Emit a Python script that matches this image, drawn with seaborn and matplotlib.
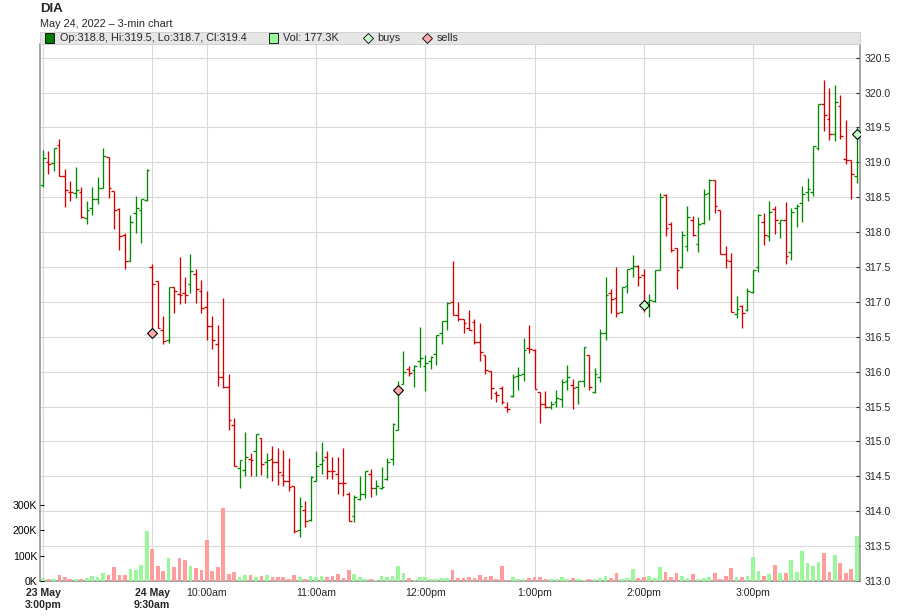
"""DIA 3-min OHLC chart with volume (23-24 May 2022)."""

import matplotlib
matplotlib.use("Agg")
import matplotlib.pyplot as plt
import matplotlib.patches as mpatches
from matplotlib.lines import Line2D
import numpy as np
import pandas as pd
import seaborn as sns

# ---- data ----
opens = [
    318.68, 319.01, 318.99, 319.25, 318.80, 318.58, 318.56, 318.58, 318.20, 318.34,
    318.48, 318.63, 319.07, 318.59, 318.33, 317.96, 317.58, 318.27, 318.32, 318.46,
    317.50, 317.30, 316.60, 316.45, 317.21, 317.11, 317.13, 317.25, 317.40, 317.16,
    316.93, 316.65, 316.39, 315.92, 315.78, 315.24, 314.62, 314.59, 314.75, 314.86,
    315.05, 314.71, 314.75, 314.71, 314.52, 314.44, 314.36, 313.73, 314.02, 313.87,
    314.43, 314.68, 314.78, 314.58, 314.54, 314.41, 314.25, 313.93, 314.17, 314.25,
    314.54, 314.33, 314.33, 314.46, 314.75, 315.17, 315.82, 316.04, 316.02, 316.15,
    316.08, 316.15, 316.25, 316.56, 316.73, 317.00, 316.81, 316.76, 316.63, 316.71,
    316.43, 316.24, 316.01, 315.70, 315.76, 315.50, 315.65, 315.94, 315.96, 316.34,
    316.31, 315.71, 315.54, 315.49, 315.56, 315.61, 315.87, 315.81, 315.78, 315.87,
    316.24, 315.71, 315.92, 316.56, 317.13, 317.06, 316.86, 317.23, 317.49, 317.51,
    317.39, 317.00, 317.01, 317.46, 318.53, 318.12, 317.77, 317.50, 317.80, 318.18,
    317.83, 318.13, 318.56, 318.75, 318.32, 317.68, 317.58, 316.82, 316.94, 316.88,
    317.14, 317.50, 318.14, 317.95, 318.33, 318.13, 318.18, 317.71, 318.34, 318.41,
    318.58, 318.58, 319.20, 319.84, 319.62, 319.41, 319.81, 319.04, 319.03, 318.80,
]
highs = [
    319.18, 319.16, 319.21, 319.33, 318.90, 318.73, 318.93, 318.64, 318.44, 318.64,
    318.79, 319.20, 319.08, 318.59, 318.35, 317.98, 318.25, 318.52, 318.47, 318.90,
    317.54, 317.30, 316.80, 317.21, 317.21, 317.64, 317.36, 317.68, 317.47, 317.32,
    317.16, 316.80, 316.67, 317.05, 315.96, 315.33, 314.74, 315.14, 314.84, 315.11,
    315.05, 314.84, 314.94, 314.90, 314.88, 314.76, 314.36, 314.20, 314.14, 314.50,
    314.87, 314.99, 314.87, 314.78, 314.78, 314.91, 314.28, 314.23, 314.50, 314.57,
    314.61, 314.45, 314.63, 314.76, 315.26, 315.86, 316.30, 316.08, 316.09, 316.64,
    316.24, 316.22, 316.53, 316.73, 317.00, 317.59, 317.00, 316.76, 316.88, 316.76,
    316.70, 316.24, 316.01, 315.72, 315.79, 315.56, 315.96, 316.07, 316.48, 316.67,
    316.32, 315.71, 315.72, 315.58, 315.73, 315.90, 316.10, 315.89, 315.87, 316.35,
    316.24, 316.05, 316.61, 317.35, 317.18, 317.50, 317.21, 317.47, 317.67, 317.53,
    317.47, 317.11, 317.46, 318.56, 318.54, 318.14, 317.77, 318.02, 318.38, 318.23,
    318.21, 318.62, 318.76, 318.75, 318.32, 317.80, 317.70, 317.09, 316.95, 317.20,
    317.45, 318.26, 318.27, 318.45, 318.38, 318.18, 318.43, 318.35, 318.40, 318.66,
    318.77, 319.23, 319.84, 320.18, 320.06, 320.11, 319.96, 319.60, 319.03, 319.50,
]
lows = [
    318.64, 318.83, 318.87, 318.80, 318.36, 318.45, 318.49, 318.20, 318.12, 318.25,
    318.40, 318.63, 318.49, 318.04, 317.75, 317.47, 317.58, 317.98, 317.85, 318.44,
    316.55, 316.63, 316.39, 316.41, 316.84, 316.97, 316.99, 317.13, 316.99, 316.84,
    316.46, 316.33, 315.80, 315.76, 315.16, 314.65, 314.33, 314.51, 314.50, 314.51,
    314.52, 314.48, 314.44, 314.38, 314.36, 314.29, 313.69, 313.63, 313.78, 313.86,
    314.43, 314.54, 314.46, 314.46, 314.24, 314.22, 313.86, 313.84, 314.16, 314.19,
    314.20, 314.23, 314.32, 314.45, 314.66, 315.17, 315.82, 315.94, 315.78, 316.07,
    315.72, 316.04, 316.09, 316.40, 316.59, 316.81, 316.72, 316.55, 316.59, 316.40,
    316.15, 315.97, 315.61, 315.56, 315.54, 315.42, 315.63, 315.74, 315.87, 316.26,
    315.75, 315.27, 315.48, 315.46, 315.50, 315.49, 315.74, 315.47, 315.54, 315.78,
    315.74, 315.69, 315.85, 316.46, 316.84, 316.79, 316.84, 317.12, 317.35, 317.23,
    316.86, 316.79, 317.00, 317.46, 317.94, 317.71, 317.19, 317.48, 317.73, 317.95,
    317.72, 318.11, 318.17, 318.28, 317.68, 317.49, 316.86, 316.77, 316.63, 316.87,
    317.12, 317.43, 317.82, 317.87, 317.97, 317.91, 317.54, 317.60, 318.07, 318.14,
    318.44, 318.51, 319.18, 319.45, 319.32, 319.31, 319.33, 318.98, 318.47, 318.70,
]
closes = [
    319.06, 318.98, 319.21, 318.80, 318.60, 318.57, 318.60, 318.21, 318.32, 318.47,
    318.63, 319.09, 318.63, 318.32, 317.94, 317.58, 318.15, 318.34, 318.47, 318.89,
    317.26, 316.63, 316.44, 317.21, 317.16, 317.10, 317.10, 317.44, 317.18, 316.91,
    316.65, 316.45, 315.92, 315.78, 315.30, 314.65, 314.74, 314.78, 314.73, 315.10,
    314.68, 314.74, 314.71, 314.56, 314.44, 314.35, 313.71, 314.08, 313.86, 314.49,
    314.65, 314.74, 314.58, 314.57, 314.41, 314.40, 313.86, 314.21, 314.25, 314.57,
    314.33, 314.36, 314.35, 314.71, 315.25, 315.74, 316.00, 315.98, 316.08, 316.20,
    316.12, 316.21, 316.53, 316.73, 316.98, 316.81, 316.76, 316.70, 316.60, 316.43,
    316.28, 316.03, 315.77, 315.67, 315.56, 315.47, 315.93, 315.95, 316.31, 316.33,
    315.75, 315.53, 315.50, 315.54, 315.62, 315.85, 315.92, 315.76, 315.87, 316.35,
    315.78, 315.96, 316.56, 317.10, 317.04, 316.84, 317.21, 317.47, 317.51, 317.35,
    316.93, 317.02, 317.46, 318.50, 318.06, 317.74, 317.46, 317.96, 318.21, 317.96,
    318.12, 318.54, 318.75, 318.38, 317.68, 317.60, 316.86, 316.90, 316.84, 317.15,
    317.45, 318.25, 317.96, 318.29, 318.18, 318.17, 317.65, 318.29, 318.38, 318.54,
    318.62, 319.23, 319.83, 319.68, 319.41, 319.86, 319.38, 319.03, 318.83, 319.40,
]
volumes_k = [
    12, 8, 8, 24, 16, 8, 8, 8, 12, 20, 16, 32, 24, 55, 24, 24, 47, 43, 63, 197,
    126, 59, 39, 89, 55, 89, 83, 59, 51, 43, 162, 39, 55, 288, 28, 36, 16, 24, 24, 16,
    20, 24, 16, 16, 16, 8, 24, 16, 8, 20, 16, 20, 16, 18, 27, 12, 43, 27, 16, 8,
    8, 4, 20, 16, 20, 59, 31, 12, 4, 16, 16, 8, 8, 12, 12, 43, 12, 12, 16, 12,
    24, 16, 20, 8, 59, 4, 16, 8, 8, 12, 16, 16, 8, 8, 8, 16, 8, 12, 8, 4,
    8, 8, 12, 20, 12, 31, 8, 12, 47, 12, 16, 20, 12, 55, 35, 16, 31, 20, 12, 27,
    8, 12, 16, 31, 8, 20, 51, 16, 16, 20, 94, 39, 20, 27, 63, 31, 31, 82, 35, 118,
    71, 59, 75, 110, 35, 102, 71, 31, 47, 177.3,
]

time_tick_bars = [0, 20, 30, 50, 70, 90, 110, 130]
time_tick_labels = ["23 May\n3:00pm", "24 May\n9:30am", "10:00am", "11:00am",
                    "12:00pm", "1:00pm", "2:00pm", "3:00pm"]
price_ticks = [313.0, 313.5, 314.0, 314.5, 315.0, 315.5, 316.0, 316.5,
               317.0, 317.5, 318.0, 318.5, 319.0, 319.5, 320.0, 320.5]
volume_ticks_k = [0, 100, 200, 300]

buy_bars = [110, 149]
buy_prices = [316.95, 319.40]
sell_bars = [20, 65]
sell_prices = [316.55, 315.73]

UP = "#008a00"
DOWN = "#d40000"
VOL_UP = "#9af79a"
VOL_DOWN = "#ff9c9c"
BUY_FACE = "#ccffcc"
SELL_FACE = "#ffaaaa"
GRID = "#d9d9d9"
SPINE = "#8c8c8c"

df = pd.DataFrame({"open": opens, "high": highs, "low": lows,
                   "close": closes, "vol": volumes_k})
df["bar"] = np.arange(len(df))
df["dir"] = np.where(df["close"] >= df["open"], "up", "down")
bar_colors = np.where(df["dir"] == "up", UP, DOWN)

# ---- figure ----
sns.set_style("white")
plt.rcParams["font.family"] = ["Liberation Sans", "DejaVu Sans"]

W, H = 900, 616
fig = plt.figure(figsize=(W / 100, H / 100), dpi=100)
ax = fig.add_axes([40 / W, 35 / H, 820 / W, 537 / H])
axv = ax.twinx()

# volume bars (drawn on the twin so they sit over the price grid)
sns.barplot(data=df, x="bar", y="vol", hue="dir",
            palette={"up": VOL_UP, "down": VOL_DOWN},
            dodge=False, native_scale=True, width=0.68, saturation=1,
            linewidth=0, legend=False, ax=axv)
axv.set_ylim(0, 2120)
axv.set_yticks(volume_ticks_k)
axv.set_yticklabels([f"{v}K" for v in volume_ticks_k])
axv.set_ylabel("")
axv.yaxis.tick_left()
axv.tick_params(axis="y", direction="in", length=3, pad=2,
                labelsize=7.6, colors="black")
for sp in axv.spines.values():
    sp.set_visible(False)

# OHLC bars
tick_w = 0.5
ax.vlines(df["bar"], df["low"], df["high"], colors=bar_colors, lw=0.95)
ax.hlines(df["open"], df["bar"] - tick_w, df["bar"], colors=bar_colors, lw=0.95)
ax.hlines(df["close"], df["bar"], df["bar"] + tick_w, colors=bar_colors, lw=0.95)

# buy / sell markers
ax.plot(sell_bars, sell_prices, ls="none", marker="D", ms=5.3,
        mfc=SELL_FACE, mec="black", mew=0.8, zorder=5)
ax.plot(buy_bars, buy_prices, ls="none", marker="D", ms=5.3,
        mfc=BUY_FACE, mec="black", mew=0.8, zorder=5)

ax.set_ylim(313.0, 320.695)
ax.set_xlim(-0.55, 149.6)
ax.set_yticks(price_ticks)
ax.set_yticklabels([f"{p:.1f}" for p in price_ticks])
ax.yaxis.tick_right()
ax.tick_params(axis="y", direction="in", length=3, pad=3, labelsize=7.6)
ax.set_xticks(time_tick_bars)
ax.set_xticklabels(time_tick_labels)
ax.tick_params(axis="x", direction="out", length=3, pad=2, labelsize=7.6)
for lbl in ax.get_xticklabels()[:2]:
    lbl.set_fontweight("bold")

ax.grid(True, color=GRID, lw=0.8)
ax.set_axisbelow(True)
ax.spines["top"].set_visible(False)
for side in ("left", "right", "bottom"):
    ax.spines[side].set_color(SPINE)
    ax.spines[side].set_linewidth(1.1)

# ---- title and legend strip ----
def fy(px):
    return 1 - px / H


fig.text(40 / W, fy(9), "DIA", fontsize=9.5, fontweight="bold", va="center")
fig.text(40 / W, fy(24), "May 24, 2022 \u2013 3-min chart", fontsize=7.8,
         va="center")

fig.add_artist(mpatches.Rectangle((40 / W, fy(44)), 820 / W, 12 / H,
                                  transform=fig.transFigure,
                                  fc="#e6e6e6", ec="#cccccc", lw=0.6))
ty = fy(38)
last = df.iloc[-1]
fig.add_artist(mpatches.Rectangle((45 / W, fy(42.5)), 9 / W, 9 / H,
                                  transform=fig.transFigure,
                                  fc="#007a00", ec="black", lw=0.6))
fig.text(60 / W, ty,
         f"Op:{last['open']:.1f}, Hi:{last['high']:.1f}, "
         f"Lo:{last['low']:.1f}, Cl:{last['close']:.1f}",
         fontsize=7.8, va="center")
fig.add_artist(mpatches.Rectangle((269 / W, fy(42.5)), 9 / W, 9 / H,
                                  transform=fig.transFigure,
                                  fc=VOL_UP, ec="black", lw=0.6))
fig.text(283 / W, ty, f"Vol: {last['vol']:.1f}K", fontsize=7.8, va="center")
fig.add_artist(Line2D([368 / W], [ty], transform=fig.transFigure, ls="none",
                      marker="D", ms=5.3, mfc=BUY_FACE, mec="black", mew=0.6))
fig.text(377 / W, ty, "buys", fontsize=7.8, va="center")
fig.add_artist(Line2D([427 / W], [ty], transform=fig.transFigure, ls="none",
                      marker="D", ms=5.3, mfc=SELL_FACE, mec="black", mew=0.6))
fig.text(437 / W, ty, "sells", fontsize=7.8, va="center")

fig.savefig("out.png", dpi=100)
